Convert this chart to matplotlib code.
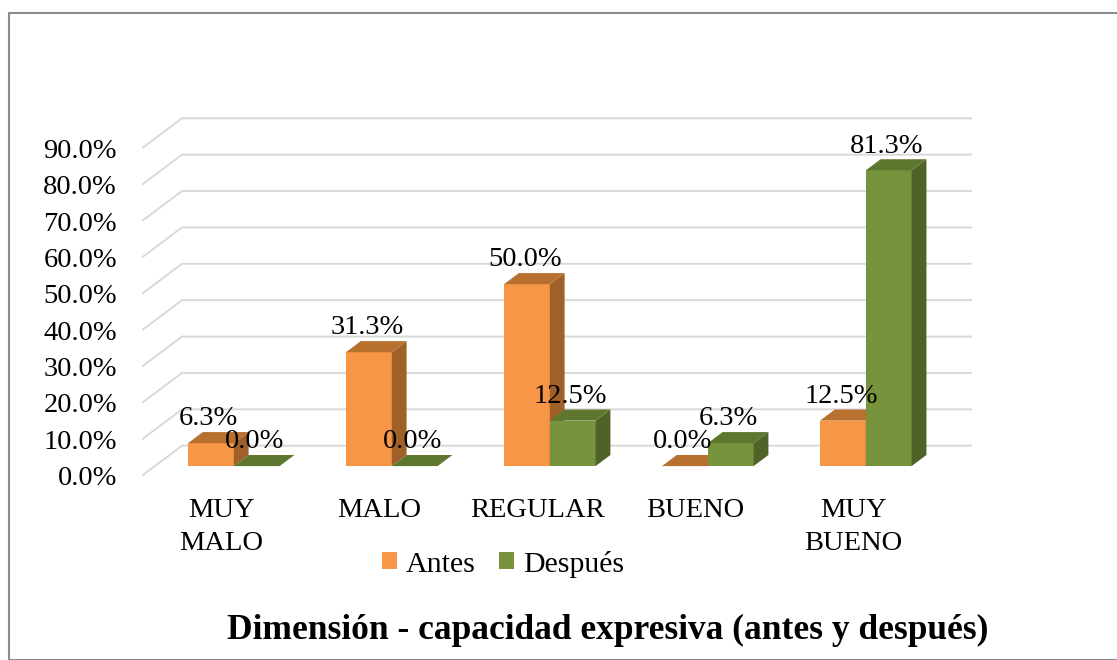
import matplotlib
matplotlib.use("Agg")
import matplotlib.pyplot as plt
from matplotlib.patches import Polygon, Patch, Rectangle

plt.rcParams["font.family"] = ["Liberation Serif", "DejaVu Serif"]

categories = ["MUY\nMALO", "MALO", "REGULAR", "BUENO", "MUY\nBUENO"]
series_names = ["Antes", "Después"]
antes = [6.3, 31.3, 50.0, 0.0, 12.5]
despues = [0.0, 0.0, 12.5, 6.3, 81.3]
y_ticks = [0, 10, 20, 30, 40, 50, 60, 70, 80, 90]
title = "Dimensión - capacidad expresiva (antes y después)"

# front / top / side shades for each series
colors = [
    ("#F79646", "#B8702F", "#A0602A"),
    ("#77933C", "#5E772E", "#4F6228"),
]

W, H = 1117, 660
fig = plt.figure(figsize=(W / 100, H / 100), dpi=100)

# axes box in pixels: floor front edge at y=475.7, 3.638 px per percent
left_px, right_px = 142, 972
bottom_px = 475.7
px_per_pct = 3.638
px_per_cat = 158
ax = fig.add_axes([left_px / W, (H - bottom_px) / H,
                   (right_px - left_px) / W, 100 * px_per_pct / H])
ax.set_xlim(0, (right_px - left_px) / px_per_cat)
ax.set_ylim(0, 100)
for s in ax.spines.values():
    s.set_visible(False)

# oblique depth: full depth = 40 px right, 30 px up
DX = 40 / px_per_cat
DY = 30 / px_per_pct
n = len(categories)


def proj(x, v, d):
    return (x + d * DX, v + d * DY)


# back wall gridlines with the diagonal floor/wall edge
for v in y_ticks:
    pts = [proj(0, v, 0), proj(0, v, 1), proj(n, v, 1)]
    ax.plot([p[0] for p in pts], [p[1] for p in pts], color="#D9D9D9",
            lw=1.4, zorder=1, solid_capstyle="butt")

bar_w = 0.29
gap = 0.21
d0, d1 = 0.32, 0.69
values = [antes, despues]
for i in range(n):
    for s, vals in enumerate(values):
        v = vals[i]
        front, top, side = colors[s]
        x0 = i + gap + bar_w * s
        x1 = x0 + bar_w
        z = 2 + i * 3 + s
        if v > 0:
            ax.add_patch(Polygon([proj(x0, 0, d0), proj(x1, 0, d0),
                                  proj(x1, v, d0), proj(x0, v, d0)],
                                 closed=True, fc=front, ec="none", zorder=z))
            ax.add_patch(Polygon([proj(x1, 0, d0), proj(x1, 0, d1),
                                  proj(x1, v, d1), proj(x1, v, d0)],
                                 closed=True, fc=side, ec="none", zorder=z))
        ax.add_patch(Polygon([proj(x0, v, d0), proj(x1, v, d0),
                              proj(x1, v, d1), proj(x0, v, d1)],
                             closed=True, fc=top, ec="none", zorder=z))
        ax.annotate(f"{v:.1f}%", xy=proj((x0 + x1) / 2, v, d0),
                    xytext=(-1.5, 17.5), textcoords="offset points",
                    ha="center", va="center", fontsize=20.5, color="black",
                    zorder=50)

ax.set_yticks(y_ticks, [f"{v:.1f}%" for v in y_ticks])
ax.set_xticks([i + 0.5 for i in range(n)], categories)
ax.tick_params(axis="y", length=0, pad=18, labelsize=20.5)
ax.tick_params(axis="x", length=0, pad=16, labelsize=20.5)
for t in ax.get_xticklabels():
    t.set_linespacing(1.45)

handles = [Patch(fc=colors[k][0], ec="none", label=series_names[k]) for k in range(2)]
fig.legend(handles=handles, loc="center", ncol=2, frameon=False,
           bbox_to_anchor=(503 / W, 1 - 564 / H), fontsize=21.5,
           handlelength=0.5, handleheight=0.5, handletextpad=0.3,
           columnspacing=0.8)

fig.text(608 / W, 1 - 630 / H, title, ha="center", va="center",
         fontsize=25.5, fontweight="bold")

# chart outer border
fig.add_artist(Rectangle((9 / W, 0), 1, 1 - 13 / H, transform=fig.transFigure,
                         fill=False, ec="#8C8C8C", lw=1.5))

fig.savefig("out.png", dpi=100)
